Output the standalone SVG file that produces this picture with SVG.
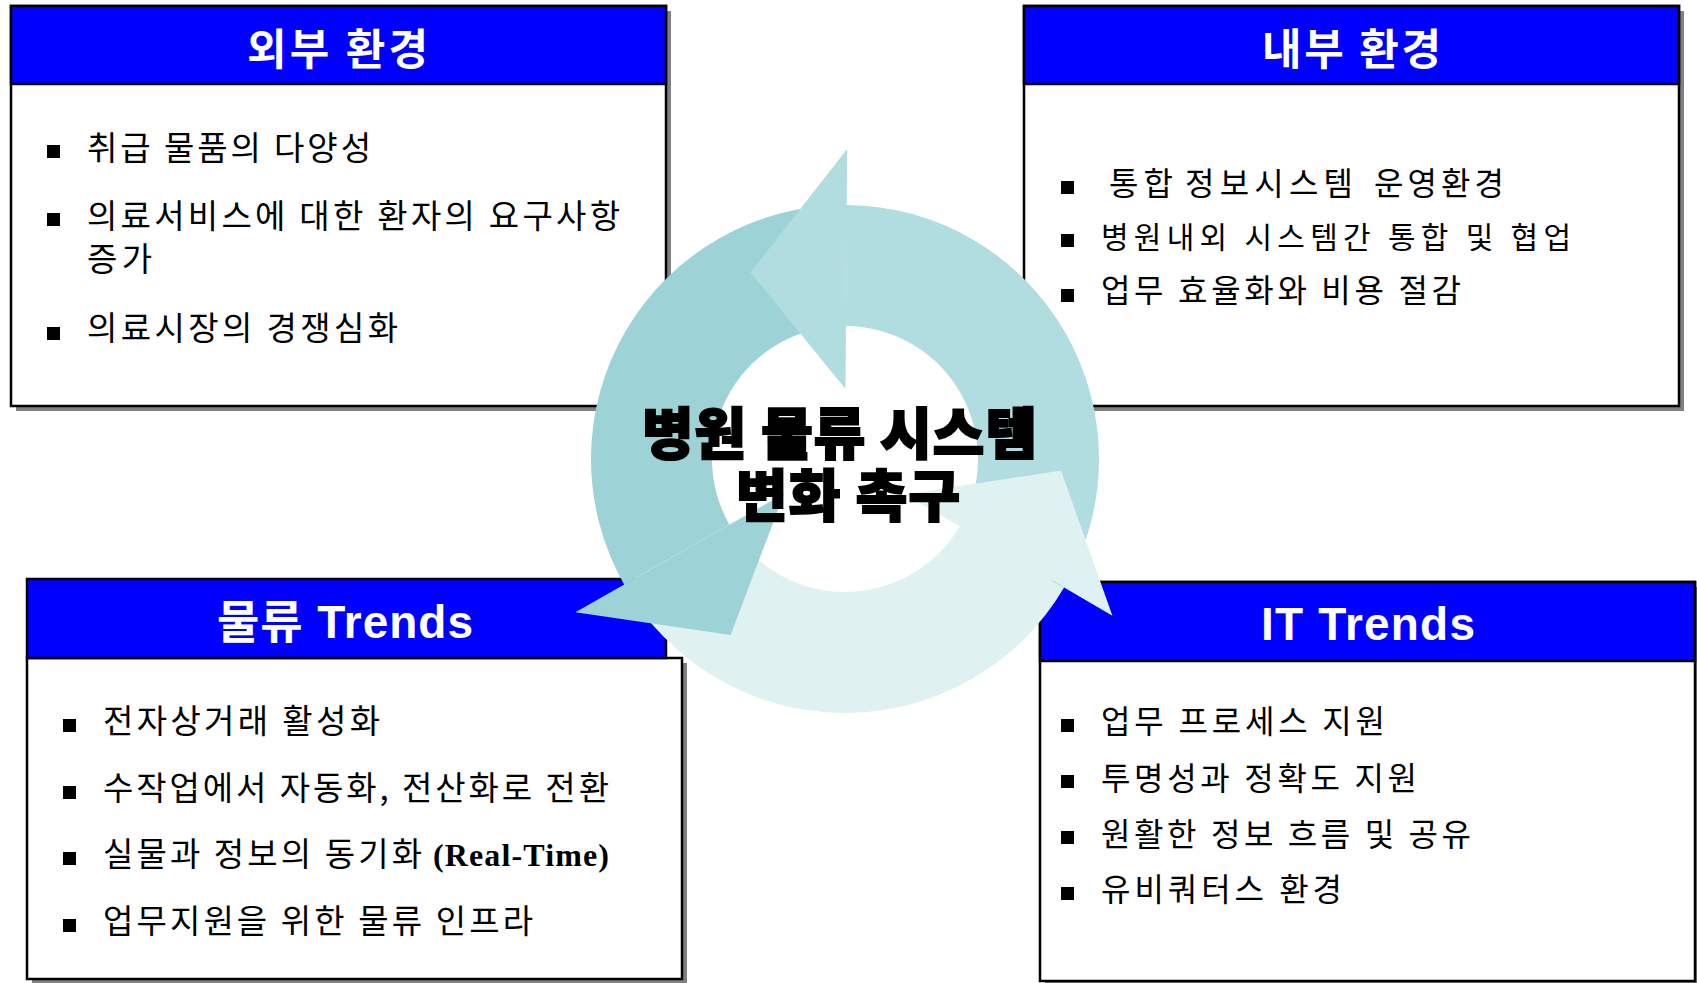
<svg xmlns="http://www.w3.org/2000/svg" width="1697" height="983" viewBox="0 0 1697 983">
<style>
.shadow{fill:#808080}
.body{fill:#ffffff;stroke:#000000;stroke-width:2.5}
.head{fill:#0000ff;stroke:#000000;stroke-width:2.5}
.htxt{font-family:"Noto Sans CJK KR",sans-serif;font-weight:700;font-size:43px;fill:#ffffff}
.htxtl{font-family:"Liberation Sans","Noto Sans CJK KR",sans-serif;font-weight:700;font-size:46px;fill:#ffffff}
.item{font-family:"Noto Sans CJK KR",sans-serif;font-size:33px;fill:#000000}
.s30{font-size:30px}
.s32{font-size:32px}
.rt{font-family:"Liberation Serif",serif;font-weight:700;font-size:32px;fill:#000000}
.bullet{fill:#000000}
.a1{fill:#b1dde0}
.a2{fill:#9dd3d6}
.a3{fill:#dff1f1}
.center{font-family:"Noto Sans CJK KR",sans-serif;font-weight:900;font-size:56px;fill:#000000;stroke:#000000;stroke-width:2}
</style>
<rect x="0" y="0" width="1697" height="983" fill="#ffffff"/>

<g id="node-external">
  <rect class="shadow" x="16" y="11" width="655" height="400"/>
  <rect class="body" x="11" y="6" width="655" height="400"/>
  <rect class="head" x="11" y="6" width="655" height="78"/>
  <text class="htxt" x="247" y="65" textLength="181" lengthAdjust="spacing">외부 환경</text>
  <rect class="bullet" x="47" y="145" width="13" height="13"/>
  <text class="item" x="87" y="160" textLength="284" lengthAdjust="spacing">취급 물품의 다양성</text>
  <rect class="bullet" x="47" y="213" width="13" height="13"/>
  <text class="item" x="87" y="228" textLength="533" lengthAdjust="spacing">의료서비스에 대한 환자의 요구사항</text>
  <text class="item" x="87" y="271" textLength="65" lengthAdjust="spacing">증가</text>
  <rect class="bullet" x="47" y="327" width="13" height="13"/>
  <text class="item" x="87" y="340" textLength="311" lengthAdjust="spacing">의료시장의 경쟁심화</text>
</g>

<g id="node-internal">
  <rect class="shadow" x="1029" y="11" width="655" height="400"/>
  <rect class="body" x="1024" y="6" width="655" height="400"/>
  <rect class="head" x="1024" y="6" width="655" height="78"/>
  <text class="htxt" x="1262" y="65" textLength="179" lengthAdjust="spacing">내부 환경</text>
  <rect class="bullet" x="1061" y="181" width="13" height="13"/>
  <text class="item s32" x="1109" y="195" textLength="64" lengthAdjust="spacing">통합</text>
  <text class="item s32" x="1185" y="195" textLength="168" lengthAdjust="spacing">정보시스템</text>
  <text class="item s32" x="1374" y="195" textLength="130" lengthAdjust="spacing">운영환경</text>
  <rect class="bullet" x="1061" y="234" width="13" height="13"/>
  <text class="item s30" x="1101" y="248" textLength="470" lengthAdjust="spacing">병원내외 시스템간 통합 및 협업</text>
  <rect class="bullet" x="1061" y="289" width="13" height="13"/>
  <text class="item s32" x="1101" y="302" textLength="360" lengthAdjust="spacing">업무 효율화와 비용 절감</text>
</g>

<g id="node-logistics">
  <rect class="shadow" x="32" y="663" width="655" height="321"/>
  <rect class="body" x="27" y="658" width="655" height="321"/>
  <rect class="head" x="27" y="579" width="639" height="79"/>
  <text class="htxtl" x="217" y="638" textLength="256" lengthAdjust="spacing">물류 Trends</text>
  <rect class="bullet" x="63" y="719" width="13" height="13"/>
  <text class="item" x="103" y="733" textLength="277" lengthAdjust="spacing">전자상거래 활성화</text>
  <rect class="bullet" x="63" y="786" width="13" height="13"/>
  <text class="item" x="103" y="800" textLength="506" lengthAdjust="spacing">수작업에서 자동화, 전산화로 전환</text>
  <rect class="bullet" x="63" y="852" width="13" height="13"/>
  <text class="item" x="103" y="866" textLength="319" lengthAdjust="spacing">실물과 정보의 동기화</text>
  <text class="rt" x="433" y="866" textLength="176" lengthAdjust="spacing">(Real-Time)</text>
  <rect class="bullet" x="63" y="919" width="13" height="13"/>
  <text class="item" x="103" y="933" textLength="430" lengthAdjust="spacing">업무지원을 위한 물류 인프라</text>
</g>

<g id="node-it">
  <rect class="shadow" x="1045" y="587" width="655" height="399"/>
  <rect class="body" x="1040" y="582" width="655" height="399"/>
  <rect class="head" x="1040" y="582" width="655" height="79"/>
  <text class="htxtl" x="1261" y="640" textLength="214" lengthAdjust="spacing">IT Trends</text>
  <rect class="bullet" x="1061" y="719" width="13" height="13"/>
  <text class="item s32" x="1101" y="733" textLength="284" lengthAdjust="spacing">업무 프로세스 지원</text>
  <rect class="bullet" x="1061" y="775" width="13" height="13"/>
  <text class="item s32" x="1101" y="790" textLength="316" lengthAdjust="spacing">투명성과 정확도 지원</text>
  <rect class="bullet" x="1061" y="831" width="13" height="13"/>
  <text class="item s32" x="1101" y="846" textLength="370" lengthAdjust="spacing">원활한 정보 흐름 및 공유</text>
  <rect class="bullet" x="1061" y="887" width="13" height="13"/>
  <text class="item s32" x="1101" y="901" textLength="241" lengthAdjust="spacing">유비쿼터스 환경</text>
</g>

<g id="connectors">
  <path class="a1" d="M1064.08 587.53 A254 254 0 0 0 846.77 205 L845.93 326 A133 133 0 0 1 959.71 526.3 Z"/>
  <path class="a2" d="M846.77 205 A254 254 0 0 0 624.15 584.47 L729.36 524.7 A133 133 0 0 1 845.93 326 Z"/>
  <path class="a3" d="M624.15 584.47 A254 254 0 0 0 1064.08 587.53 L959.71 526.3 A133 133 0 0 1 729.36 524.7 Z"/>
  <polygon class="a1" points="847.16,149 845.49,389 750.5,272.5"/>
  <polygon class="a2" points="575.46,612.14 784.14,493.58 730.63,635.12"/>
  <polygon class="a3" points="1112.38,615.87 905.38,494.42 1061,470.5"/>
</g>

<g id="node-center">
  <text class="center"><tspan x="642" y="454" textLength="395" lengthAdjust="spacing">병원 물류 시스템</tspan><tspan x="736" y="516" textLength="224" lengthAdjust="spacing">변화 촉구</tspan></text>
</g>
</svg>
